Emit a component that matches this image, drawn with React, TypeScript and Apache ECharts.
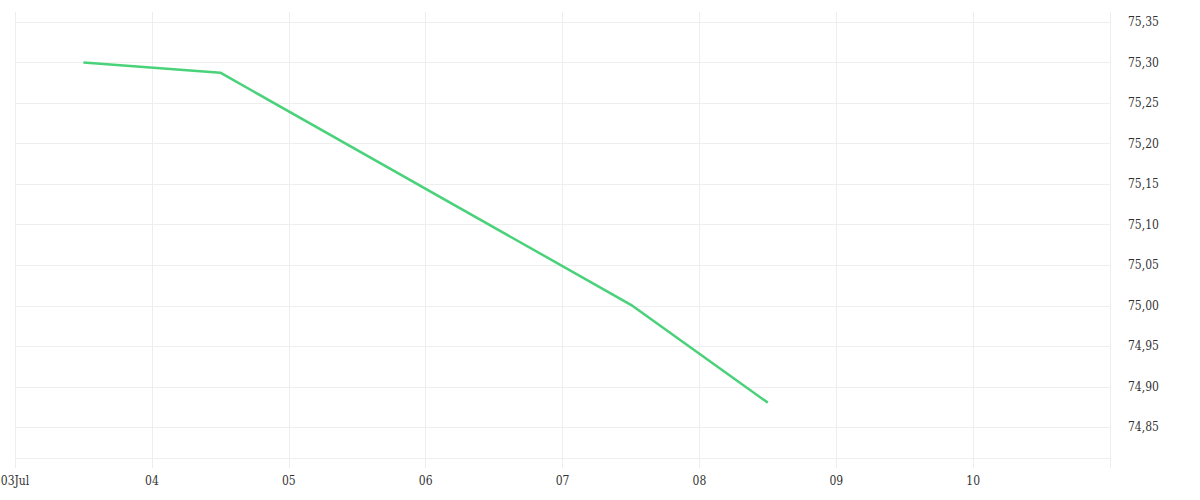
import React, { useEffect, useRef } from 'react';
import * as echarts from 'echarts';

// visible range of the time axis (one tick per day)
const rangeStart = '2024-07-03T00:00';
const rangeEnd = '2024-07-11T00:00';

// rate points
const pointDates = ['2024-07-03T12:00', '2024-07-04T12:00', '2024-07-07T12:00', '2024-07-08T12:00'];
const pointValues = [75.3, 75.2875, 75.0012, 74.8806];

// value axis
const yMin = 74.8;
const yMax = 75.3623;
const yStep = 0.05;

const DAY = 24 * 60 * 60 * 1000;
const GRID_COLOR = '#eeeeee';
const TEXT_COLOR = '#333';
const LINE_COLOR = '#4ad27a';
const FONT = '"DejaVu Serif Condensed", "DejaVu Serif", serif';

const App: React.FC = () => {
  const chartRef = useRef<HTMLDivElement>(null);

  useEffect(() => {
    if (!chartRef.current) return;
    const chart = echarts.init(chartRef.current, undefined, { renderer: 'svg' });

    const xMin = new Date(rangeStart).getTime();
    const xMax = new Date(rangeEnd).getTime();
    const seriesData = pointDates.map((d, i) => [new Date(d).getTime(), pointValues[i]]);

    const option: echarts.EChartsOption = {
      animation: false,
      backgroundColor: '#fff',
      grid: { left: 15, right: 90, top: 12, bottom: 32, containLabel: false, outerBoundsMode: 'none' } as any,
      xAxis: {
        type: 'value',
        min: xMin,
        max: xMax,
        interval: DAY,
        offset: -10,
        axisLine: { show: true, lineStyle: { color: GRID_COLOR } },
        axisTick: { show: true, length: 10, lineStyle: { color: GRID_COLOR } },
        axisLabel: {
          color: TEXT_COLOR,
          fontFamily: FONT,
          fontSize: 12,
          margin: 17,
          showMaxLabel: false,
          formatter: (v: number) => {
            const d = new Date(v);
            const day = String(d.getDate()).padStart(2, '0');
            return v === xMin ? day + 'Jul' : day;
          }
        },
        splitLine: { show: true, lineStyle: { color: GRID_COLOR } }
      },
      yAxis: {
        type: 'value',
        position: 'right',
        min: yMin,
        max: yMax,
        interval: yStep,
        axisLine: { show: true, lineStyle: { color: GRID_COLOR } },
        axisTick: { show: false },
        axisLabel: {
          color: TEXT_COLOR,
          fontFamily: FONT,
          fontSize: 12,
          margin: 18,
          showMinLabel: false,
          showMaxLabel: false,
          formatter: (v: number) => v.toFixed(2).replace('.', ',')
        },
        splitLine: {
          show: true,
          showMinLine: false,
          showMaxLine: false,
          lineStyle: { color: GRID_COLOR }
        }
      },
      series: [
        {
          type: 'line',
          data: seriesData,
          symbol: 'none',
          lineStyle: { width: 2.5, color: LINE_COLOR },
          itemStyle: { color: LINE_COLOR }
        }
      ]
    };

    chart.setOption(option);
    return () => chart.dispose();
  }, []);

  return (
    <div
      ref={chartRef}
      style={{ position: 'absolute', left: 0, top: 0, width: '1200px', height: '500px' }}
    />
  );
};

export default App;
